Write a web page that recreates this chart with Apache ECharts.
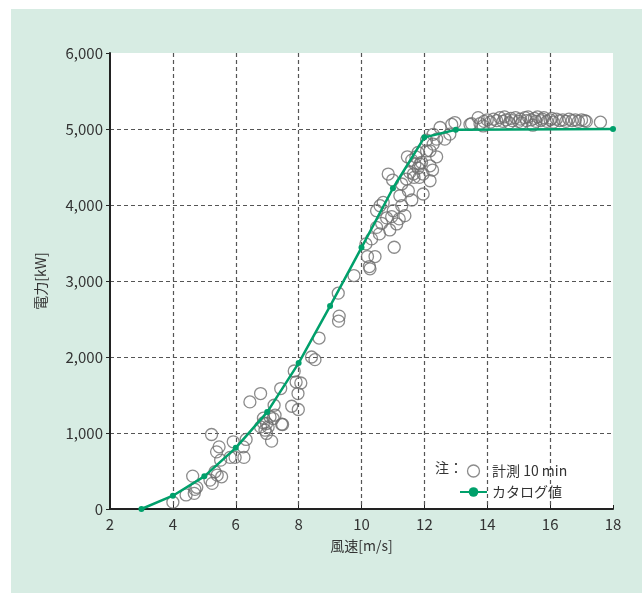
<!DOCTYPE html>
<html>
<head>
<meta charset="utf-8">
<script src="https://cdn.jsdelivr.net/npm/echarts@6/dist/echarts.min.js"></script>
<style>
  html, body { margin: 0; padding: 0; background: #fff; }
  #panel { position: absolute; left: 11px; top: 9px; width: 631px; height: 584px; background: #d7ece3; }
  #main { position: absolute; left: 0; top: 0; width: 642px; height: 593px; }
</style>
</head>
<body>
<div id="panel"></div>
<div id="main"></div>
<script>
// カタログ値 (power curve)
var catalogWind = [3, 4, 5, 6, 7, 8, 9, 10, 11, 12, 13, 18];
var catalogPower = [0, 175, 430, 805, 1275, 1920, 2670, 3440, 4220, 4890, 4990, 5000];

// 計測 10 min : [wind m/s, power kW]
var measured10min = [
    [4.0, 90], [4.42, 185], [4.63, 433], [4.7, 258], [4.76, 285], [4.68, 206],
    [5.23, 980], [5.18, 380], [5.25, 337], [5.34, 490], [5.41, 446], [5.55, 424],
    [5.39, 752], [5.47, 818], [5.52, 643], [5.82, 679], [5.98, 679], [6.26, 679],
    [5.92, 884], [6.24, 818], [6.33, 915], [6.45, 1409], [6.79, 1080], [6.88, 1133],
    [6.93, 1037], [6.98, 994], [7.14, 893], [7.03, 1080], [7.19, 1190], [7.46, 1116],
    [7.22, 1365], [7.78, 1352], [7.99, 1309], [7.25, 1234], [6.88, 1195],
    [6.79, 1519], [7.43, 1585], [7.86, 1816], [7.92, 1671], [8.07, 1658], [7.98, 1519],
    [9.26, 2840], [9.29, 2538], [9.27, 2472], [8.65, 2249], [8.41, 2000], [8.52, 1965],
    [7.09, 1212], [7.49, 1112], [6.98, 1125],
    [9.76, 3072], [10.25, 3190], [10.27, 3160], [10.19, 3322], [10.43, 3322], [11.04, 3444],
    [10.14, 3488], [10.32, 3554], [10.9, 3672], [10.57, 3620], [10.48, 3706], [10.64, 3759],
    [11.12, 3751], [11.2, 3817], [10.96, 3847], [10.8, 3830], [11.38, 3860], [10.48, 3925],
    [10.59, 3991], [10.69, 4034], [11.01, 3925], [11.28, 3991], [11.6, 4066], [11.96, 4145],
    [11.22, 4122], [11.49, 4188], [10.85, 4407], [10.99, 4328], [11.28, 4276], [11.43, 4341],
    [11.54, 4429], [11.67, 4363], [11.8, 4486], [11.91, 4560], [11.96, 4407], [12.18, 4319],
    [12.26, 4460], [12.39, 4634], [12.28, 4801], [12.18, 4713], [11.73, 4634], [11.6, 4591],
    [11.46, 4634], [11.8, 4691], [12.07, 4854], [12.65, 4867], [12.81, 4932], [11.86, 4539],
    [11.7, 4539], [11.65, 4407], [11.84, 4363], [12.18, 4516], [12.07, 4713], [12.39, 4867],
    [12.28, 4930], [12.5, 5020], [12.87, 5060], [12.97, 5085], [13.45, 5060], [13.5, 5070],
    [13.71, 5150], [13.77, 5070], [13.87, 5040],
    [13.9, 5100], [14.0, 5120], [14.1, 5090], [14.2, 5130], [14.3, 5110], [14.4, 5150],
    [14.5, 5100], [14.55, 5160], [14.6, 5120], [14.7, 5080], [14.75, 5140], [14.8, 5110],
    [14.9, 5150], [15.0, 5100], [15.05, 5130], [15.1, 5080], [15.2, 5150], [15.25, 5110],
    [15.3, 5160], [15.4, 5120], [15.45, 5050], [15.5, 5140], [15.55, 5100], [15.6, 5160],
    [15.7, 5110], [15.75, 5130], [15.8, 5150], [15.9, 5100], [16.0, 5120], [16.05, 5140],
    [16.1, 5090], [16.2, 5130], [16.3, 5110], [16.4, 5120], [16.5, 5100], [16.6, 5130],
    [16.7, 5110], [16.8, 5120], [16.9, 5100], [17.0, 5120], [17.1, 5110], [17.15, 5100],
    [17.6, 5090]
];

var xTicks = [2, 18, 2];      // min, max, interval
var yTicks = [0, 6000, 1000];

var FONT = '"Noto Sans CJK JP", "Noto Sans", sans-serif';
var GREEN = '#00a06b';

var chart = echarts.init(document.getElementById('main'));
var catalogData = catalogWind.map(function (w, i) { return [w, catalogPower[i]]; });

var option = {
    backgroundColor: 'transparent',
    textStyle: { fontFamily: FONT },
    animation: false,
    grid: {
        left: 110, right: 29, top: 53, bottom: 84,
        show: true, backgroundColor: '#fff', borderWidth: 0
    },
    graphic: [{
        type: 'text', left: 435, top: 461,
        style: { text: '注：', fill: '#333', font: '14px ' + FONT }
    }],
    legend: {
        orient: 'vertical', left: 454, top: 459,
        itemWidth: 27, itemHeight: 12, itemGap: 7,
        textStyle: { fontSize: 14, color: '#333', fontFamily: FONT },
        data: [
            { name: '計測 10 min', icon: 'circle',
              itemStyle: { color: 'rgba(0,0,0,0)', borderColor: '#6e6e6e', borderWidth: 1.3 } },
            { name: 'カタログ値' }
        ]
    },
    xAxis: {
        type: 'value', min: xTicks[0], max: xTicks[1], interval: xTicks[2],
        name: '風速[m/s]', nameLocation: 'middle', nameGap: 30,
        nameTextStyle: { fontSize: 14, color: '#333' },
        axisLine: { lineStyle: { color: '#222', width: 2 } },
        axisTick: { show: true, inside: true, length: 4, lineStyle: { color: '#222' } },
        axisLabel: { fontSize: 15, color: '#333', margin: 8 },
        splitLine: { show: true, showMinLine: false, showMaxLine: false,
                     lineStyle: { color: '#555', type: [4, 3], width: 1.2 } }
    },
    yAxis: {
        type: 'value', min: yTicks[0], max: yTicks[1], interval: yTicks[2],
        name: '電力[kW]', nameLocation: 'middle', nameGap: 62, nameRotate: 90,
        nameTextStyle: { fontSize: 14, color: '#333' },
        axisLine: { show: true, lineStyle: { color: '#222', width: 2 } },
        axisTick: { show: true, length: 4, lineStyle: { color: '#222' } },
        axisLabel: { fontSize: 15, color: '#333', margin: 7,
                     formatter: function (v) { return v.toLocaleString('en-US'); } },
        splitLine: { show: true, showMinLine: false, showMaxLine: false,
                     lineStyle: { color: '#555', type: [4, 3], width: 1.2 } }
    },
    series: [
        {
            name: '計測 10 min',
            type: 'scatter',
            symbol: 'circle', symbolSize: 12,
            itemStyle: { color: 'rgba(0,0,0,0)', borderColor: '#6e6e6e', borderWidth: 1.3 },
            data: measured10min,
            z: 2
        },
        {
            name: 'カタログ値',
            type: 'line',
            data: catalogData,
            symbol: 'circle', symbolSize: 6,
            lineStyle: { color: GREEN, width: 2.5 },
            itemStyle: { color: GREEN },
            z: 3
        }
    ]
};
chart.setOption(option);
</script>
</body>
</html>
